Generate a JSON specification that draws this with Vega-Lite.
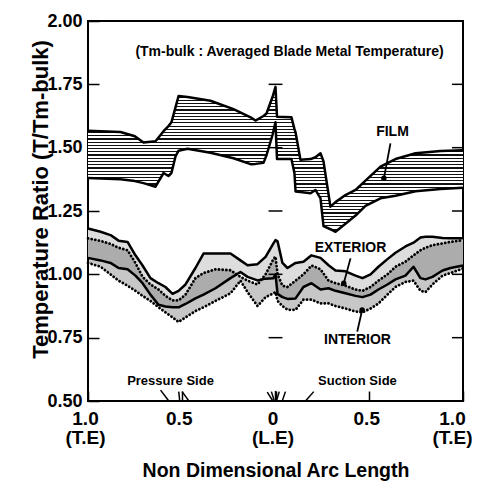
{
 "$schema": "https://vega.github.io/schema/vega-lite/v6.json",
 "width": 375, "height": 380,
 "autosize": "none",
 "padding": {"left": 88, "top": 21, "right": 18, "bottom": 80},
 "background": "white",
 "config": {"view": {"stroke": "#000", "strokeWidth": 2}, "font": "Liberation Sans"},
 "datasets": {
  "film": [
   {"x":-1.0,"u":1.567,"l":1.38},{"x":-0.827,"u":1.562,"l":1.375},{"x":-0.75,"u":1.545,"l":1.368},{"x":-0.704,"u":1.52,"l":1.36},
   {"x":-0.64,"u":1.525,"l":1.346},{"x":-0.597,"u":1.565,"l":1.4},{"x":-0.571,"u":1.585,"l":1.388},{"x":-0.555,"u":1.6,"l":1.4},
   {"x":-0.533,"u":1.66,"l":1.466},{"x":-0.517,"u":1.704,"l":1.488},{"x":-0.469,"u":1.7,"l":1.496},{"x":-0.347,"u":1.685,"l":1.48},
   {"x":-0.224,"u":1.652,"l":1.458},{"x":-0.133,"u":1.62,"l":1.435},{"x":-0.107,"u":1.607,"l":1.436},{"x":-0.064,"u":1.625,"l":1.44},
   {"x":-0.048,"u":1.635,"l":1.47},{"x":-0.016,"u":1.7,"l":1.55},{"x":0.0,"u":1.74,"l":1.6},{"x":0.008,"u":1.622,"l":1.455},
   {"x":0.085,"u":1.62,"l":1.455},{"x":0.101,"u":1.573,"l":1.4},{"x":0.107,"u":1.56,"l":1.327},{"x":0.133,"u":1.452,"l":1.325},
   {"x":0.187,"u":1.455,"l":1.32},{"x":0.213,"u":1.462,"l":1.333},{"x":0.24,"u":1.478,"l":1.3},{"x":0.256,"u":1.446,"l":1.19},
   {"x":0.293,"u":1.267,"l":1.178},{"x":0.32,"u":1.285,"l":1.168},{"x":0.373,"u":1.313,"l":1.2},{"x":0.427,"u":1.333,"l":1.232},
   {"x":0.48,"u":1.37,"l":1.27},{"x":0.56,"u":1.425,"l":1.3},{"x":0.64,"u":1.455,"l":1.31},{"x":0.747,"u":1.478,"l":1.328},
   {"x":0.88,"u":1.487,"l":1.337},{"x":1.0,"u":1.49,"l":1.342}
  ],
  "band": [
   {"x":-1.0,"t":1.181,"d":1.142,"m":1.065,"b":1.045},
   {"x":-0.933,"t":1.168,"d":1.132,"m":1.055,"b":1.03},
   {"x":-0.88,"t":1.155,"d":1.12,"m":1.045,"b":1.0},
   {"x":-0.837,"t":1.133,"d":1.105,"m":1.025,"b":0.975},
   {"x":-0.789,"t":1.128,"d":1.095,"m":1.02,"b":0.955},
   {"x":-0.747,"t":1.075,"d":1.045,"m":0.995,"b":0.935},
   {"x":-0.709,"t":1.035,"d":0.99,"m":0.965,"b":0.915},
   {"x":-0.667,"t":0.985,"d":0.96,"m":0.92,"b":0.895},
   {"x":-0.624,"t":0.965,"d":0.94,"m":0.88,"b":0.87},
   {"x":-0.587,"t":0.95,"d":0.915,"m":0.873,"b":0.85},
   {"x":-0.549,"t":0.923,"d":0.897,"m":0.87,"b":0.83},
   {"x":-0.517,"t":0.935,"d":0.897,"m":0.87,"b":0.812},
   {"x":-0.48,"t":0.96,"d":0.92,"m":0.883,"b":0.83},
   {"x":-0.427,"t":1.025,"d":0.985,"m":0.905,"b":0.855},
   {"x":-0.384,"t":1.082,"d":1.005,"m":0.92,"b":0.87},
   {"x":-0.32,"t":1.082,"d":1.02,"m":0.945,"b":0.895},
   {"x":-0.24,"t":1.082,"d":1.016,"m":0.985,"b":0.925},
   {"x":-0.187,"t":1.055,"d":0.99,"m":1.009,"b":0.975},
   {"x":-0.149,"t":1.036,"d":0.975,"m":0.99,"b":0.93},
   {"x":-0.096,"t":1.04,"d":0.96,"m":0.976,"b":0.875},
   {"x":-0.053,"t":1.069,"d":1.0,"m":0.983,"b":0.91},
   {"x":-0.011,"t":1.122,"d":1.06,"m":0.985,"b":0.925},
   {"x":0.0,"t":1.135,"d":1.07,"m":1.0,"b":0.93},
   {"x":0.011,"t":1.13,"d":1.0,"m":0.923,"b":0.895},
   {"x":0.037,"t":1.045,"d":0.955,"m":0.91,"b":0.875},
   {"x":0.064,"t":1.025,"d":0.95,"m":0.903,"b":0.86},
   {"x":0.107,"t":1.045,"d":0.975,"m":0.905,"b":0.86},
   {"x":0.149,"t":1.05,"d":1.0,"m":0.95,"b":0.9},
   {"x":0.192,"t":1.075,"d":1.035,"m":0.965,"b":0.9},
   {"x":0.24,"t":1.065,"d":1.02,"m":0.94,"b":0.885},
   {"x":0.283,"t":1.036,"d":0.975,"m":0.945,"b":0.885},
   {"x":0.32,"t":1.015,"d":0.965,"m":0.935,"b":0.875},
   {"x":0.373,"t":1.012,"d":0.955,"m":0.925,"b":0.865},
   {"x":0.427,"t":0.995,"d":0.94,"m":0.915,"b":0.853},
   {"x":0.464,"t":0.985,"d":0.935,"m":0.91,"b":0.85},
   {"x":0.507,"t":1.0,"d":0.95,"m":0.92,"b":0.865},
   {"x":0.549,"t":1.03,"d":0.975,"m":0.94,"b":0.885},
   {"x":0.597,"t":1.06,"d":1.0,"m":0.96,"b":0.92},
   {"x":0.64,"t":1.085,"d":1.03,"m":0.98,"b":0.95},
   {"x":0.693,"t":1.11,"d":1.05,"m":0.995,"b":0.97},
   {"x":0.736,"t":1.125,"d":1.075,"m":1.03,"b":0.975},
   {"x":0.773,"t":1.145,"d":1.095,"m":0.985,"b":0.935},
   {"x":0.8,"t":1.148,"d":1.105,"m":0.98,"b":0.93},
   {"x":0.837,"t":1.148,"d":1.115,"m":0.99,"b":0.96},
   {"x":0.891,"t":1.143,"d":1.122,"m":1.015,"b":0.995},
   {"x":0.933,"t":1.142,"d":1.128,"m":1.025,"b":1.005},
   {"x":1.0,"t":1.142,"d":1.135,"m":1.035,"b":1.023}
  ],
  "yticks": [{"y":0.5},{"y":0.75},{"y":1.0},{"y":1.25},{"y":1.5},{"y":1.75},{"y":2.0}],
  "cticks": [{"y":0.75},{"y":1.0},{"y":1.25},{"y":1.5},{"y":1.75}],
  "pointers": [
   {"x":0.613,"y":1.517,"x2":0.578,"y2":1.379},
   {"x":0.4,"y":1.063,"x2":0.364,"y2":0.965},
   {"x":0.436,"y":0.774,"x2":0.462,"y2":0.859}
  ],
  "holes": [
   {"x":-0.613,"y":0.543,"x2":-0.569,"y2":0.5},
   {"x":-0.516,"y":0.537,"x2":-0.511,"y2":0.5},
   {"x":-0.498,"y":0.537,"x2":-0.462,"y2":0.5},
   {"x":-0.044,"y":0.535,"x2":-0.014,"y2":0.5},
   {"x":-0.022,"y":0.537,"x2":-0.006,"y2":0.5},
   {"x":0.0,"y":0.54,"x2":0.0,"y2":0.5},
   {"x":0.02,"y":0.537,"x2":0.005,"y2":0.5},
   {"x":0.053,"y":0.537,"x2":0.036,"y2":0.5},
   {"x":0.204,"y":0.537,"x2":0.16,"y2":0.5}
  ],
  "big": [
   {"x":0.075,"y":1.878,"text":"(Tm-bulk : Averaged Blade Metal Temperature)"},
   {"x":0.624,"y":1.562,"text":"FILM"},
   {"x":0.4,"y":1.104,"text":"EXTERIOR"},
   {"x":0.437,"y":0.741,"text":"INTERIOR"}
  ],
  "sides": [
   {"x":-0.56,"y":0.579,"text":"Pressure Side"},
   {"x":0.437,"y":0.579,"text":"Suction Side"}
  ]
 },
 "layer": [
  {
   "data": {"name": "band"},
   "mark": {"type": "area", "fill": "#dddddd", "stroke": null},
   "encoding": {
    "x": {"field": "x", "type": "quantitative", "scale": {"domain": [-1, 1], "nice": false, "zero": false},
     "axis": {"values": [-1, -0.5, 0, 0.5, 1],
      "labelExpr": "datum.value == 0 ? ['0','(L.E)'] : (abs(datum.value) == 1 ? ['1.0','(T.E)'] : '0.5')",
      "domain": false, "grid": false, "tickSize": -10, "tickColor": "#000", "tickWidth": 1.5,
      "labelPadding": 18, "labelFontSize": 19, "labelFontWeight": "bold", "labelColor": "#000", "labelFont": "Liberation Sans",
      "labelLineHeight": 19, "labelFlush": false, "labelOverlap": false, "labelBound": false,
      "labelOffset": {"condition": {"test": "datum.value == 1", "value": -11}, "value": -3},
      "title": "Non Dimensional Arc Length", "titleFontSize": 19.5, "titleFontWeight": "bold", "titleColor": "#000",
      "titleFont": "Liberation Sans", "titleY": 75, "titleBaseline": "alphabetic"}},
    "y": {"field": "t", "type": "quantitative", "scale": {"domain": [0.5, 2], "nice": false, "zero": false},
     "axis": {"values": [0.5, 0.75, 1, 1.25, 1.5, 1.75, 2], "format": ".2f", "domain": false, "grid": false,
      "tickSize": -11, "tickWidth": 1.5, "tickColor": "#000", "labelPadding": 17, "labelFontSize": 18,
      "labelFontWeight": "bold", "labelColor": "#000", "labelFont": "Liberation Sans", "labelFlush": false, "labelOverlap": false, "labelBound": false,
      "title": "Temperature Ratio  (T/Tm-bulk)", "titleFontSize": 22, "titleFontWeight": "bold", "titleColor": "#000",
      "titleFont": "Liberation Sans", "titleX": -41, "titleY": 178, "titleAngle": 270, "titleAlign": "center", "titleBaseline": "alphabetic"}},
    "y2": {"field": "m"}
   }
  },
  {
   "data": {"name": "band"},
   "mark": {"type": "area", "fill": "#000", "fillOpacity": 0.22, "stroke": null},
   "encoding": {
    "x": {"field": "x", "type": "quantitative", "scale": {"domain": [-1, 1], "nice": false, "zero": false}},
    "y": {"field": "d", "type": "quantitative", "scale": {"domain": [0.5, 2], "nice": false, "zero": false}},
    "y2": {"field": "b"}
   }
  },
  {
   "data": {"name": "film"},
   "mark": {"type": "area", "stroke": null, "fill": {"gradient": "linear", "x1": 0, "y1": 0, "x2": 0, "y2": 1, "stops": [
    {"offset":0,"color":"#111"},{"offset":0.0078,"color":"#111"},{"offset":0.0078,"color":"#fff"},{"offset":0.0222,"color":"#fff"},
    {"offset":0.0222,"color":"#111"},{"offset":0.03,"color":"#111"},{"offset":0.03,"color":"#fff"},{"offset":0.0444,"color":"#fff"},
    {"offset":0.0444,"color":"#111"},{"offset":0.0522,"color":"#111"},{"offset":0.0522,"color":"#fff"},{"offset":0.0667,"color":"#fff"},
    {"offset":0.0667,"color":"#111"},{"offset":0.0745,"color":"#111"},{"offset":0.0745,"color":"#fff"},{"offset":0.0889,"color":"#fff"},
    {"offset":0.0889,"color":"#111"},{"offset":0.0967,"color":"#111"},{"offset":0.0967,"color":"#fff"},{"offset":0.1111,"color":"#fff"},
    {"offset":0.1111,"color":"#111"},{"offset":0.1189,"color":"#111"},{"offset":0.1189,"color":"#fff"},{"offset":0.1333,"color":"#fff"},
    {"offset":0.1333,"color":"#111"},{"offset":0.1411,"color":"#111"},{"offset":0.1411,"color":"#fff"},{"offset":0.1556,"color":"#fff"},
    {"offset":0.1556,"color":"#111"},{"offset":0.1634,"color":"#111"},{"offset":0.1634,"color":"#fff"},{"offset":0.1778,"color":"#fff"},
    {"offset":0.1778,"color":"#111"},{"offset":0.1856,"color":"#111"},{"offset":0.1856,"color":"#fff"},{"offset":0.2,"color":"#fff"},
    {"offset":0.2,"color":"#111"},{"offset":0.2078,"color":"#111"},{"offset":0.2078,"color":"#fff"},{"offset":0.2222,"color":"#fff"},
    {"offset":0.2222,"color":"#111"},{"offset":0.23,"color":"#111"},{"offset":0.23,"color":"#fff"},{"offset":0.2444,"color":"#fff"},
    {"offset":0.2444,"color":"#111"},{"offset":0.2522,"color":"#111"},{"offset":0.2522,"color":"#fff"},{"offset":0.2667,"color":"#fff"},
    {"offset":0.2667,"color":"#111"},{"offset":0.2745,"color":"#111"},{"offset":0.2745,"color":"#fff"},{"offset":0.2889,"color":"#fff"},
    {"offset":0.2889,"color":"#111"},{"offset":0.2967,"color":"#111"},{"offset":0.2967,"color":"#fff"},{"offset":0.3111,"color":"#fff"},
    {"offset":0.3111,"color":"#111"},{"offset":0.3189,"color":"#111"},{"offset":0.3189,"color":"#fff"},{"offset":0.3333,"color":"#fff"},
    {"offset":0.3333,"color":"#111"},{"offset":0.3411,"color":"#111"},{"offset":0.3411,"color":"#fff"},{"offset":0.3556,"color":"#fff"},
    {"offset":0.3556,"color":"#111"},{"offset":0.3634,"color":"#111"},{"offset":0.3634,"color":"#fff"},{"offset":0.3778,"color":"#fff"},
    {"offset":0.3778,"color":"#111"},{"offset":0.3856,"color":"#111"},{"offset":0.3856,"color":"#fff"},{"offset":0.4,"color":"#fff"},
    {"offset":0.4,"color":"#111"},{"offset":0.4078,"color":"#111"},{"offset":0.4078,"color":"#fff"},{"offset":0.4222,"color":"#fff"},
    {"offset":0.4222,"color":"#111"},{"offset":0.43,"color":"#111"},{"offset":0.43,"color":"#fff"},{"offset":0.4444,"color":"#fff"},
    {"offset":0.4444,"color":"#111"},{"offset":0.4522,"color":"#111"},{"offset":0.4522,"color":"#fff"},{"offset":0.4667,"color":"#fff"},
    {"offset":0.4667,"color":"#111"},{"offset":0.4745,"color":"#111"},{"offset":0.4745,"color":"#fff"},{"offset":0.4889,"color":"#fff"},
    {"offset":0.4889,"color":"#111"},{"offset":0.4967,"color":"#111"},{"offset":0.4967,"color":"#fff"},{"offset":0.5111,"color":"#fff"},
    {"offset":0.5111,"color":"#111"},{"offset":0.5189,"color":"#111"},{"offset":0.5189,"color":"#fff"},{"offset":0.5333,"color":"#fff"},
    {"offset":0.5333,"color":"#111"},{"offset":0.5411,"color":"#111"},{"offset":0.5411,"color":"#fff"},{"offset":0.5556,"color":"#fff"},
    {"offset":0.5556,"color":"#111"},{"offset":0.5634,"color":"#111"},{"offset":0.5634,"color":"#fff"},{"offset":0.5778,"color":"#fff"},
    {"offset":0.5778,"color":"#111"},{"offset":0.5856,"color":"#111"},{"offset":0.5856,"color":"#fff"},{"offset":0.6,"color":"#fff"},
    {"offset":0.6,"color":"#111"},{"offset":0.6078,"color":"#111"},{"offset":0.6078,"color":"#fff"},{"offset":0.6222,"color":"#fff"},
    {"offset":0.6222,"color":"#111"},{"offset":0.63,"color":"#111"},{"offset":0.63,"color":"#fff"},{"offset":0.6444,"color":"#fff"},
    {"offset":0.6444,"color":"#111"},{"offset":0.6522,"color":"#111"},{"offset":0.6522,"color":"#fff"},{"offset":0.6667,"color":"#fff"},
    {"offset":0.6667,"color":"#111"},{"offset":0.6745,"color":"#111"},{"offset":0.6745,"color":"#fff"},{"offset":0.6889,"color":"#fff"},
    {"offset":0.6889,"color":"#111"},{"offset":0.6967,"color":"#111"},{"offset":0.6967,"color":"#fff"},{"offset":0.7111,"color":"#fff"},
    {"offset":0.7111,"color":"#111"},{"offset":0.7189,"color":"#111"},{"offset":0.7189,"color":"#fff"},{"offset":0.7333,"color":"#fff"},
    {"offset":0.7333,"color":"#111"},{"offset":0.7411,"color":"#111"},{"offset":0.7411,"color":"#fff"},{"offset":0.7556,"color":"#fff"},
    {"offset":0.7556,"color":"#111"},{"offset":0.7634,"color":"#111"},{"offset":0.7634,"color":"#fff"},{"offset":0.7778,"color":"#fff"},
    {"offset":0.7778,"color":"#111"},{"offset":0.7856,"color":"#111"},{"offset":0.7856,"color":"#fff"},{"offset":0.8,"color":"#fff"},
    {"offset":0.8,"color":"#111"},{"offset":0.8078,"color":"#111"},{"offset":0.8078,"color":"#fff"},{"offset":0.8222,"color":"#fff"},
    {"offset":0.8222,"color":"#111"},{"offset":0.83,"color":"#111"},{"offset":0.83,"color":"#fff"},{"offset":0.8444,"color":"#fff"},
    {"offset":0.8444,"color":"#111"},{"offset":0.8522,"color":"#111"},{"offset":0.8522,"color":"#fff"},{"offset":0.8667,"color":"#fff"},
    {"offset":0.8667,"color":"#111"},{"offset":0.8745,"color":"#111"},{"offset":0.8745,"color":"#fff"},{"offset":0.8889,"color":"#fff"},
    {"offset":0.8889,"color":"#111"},{"offset":0.8967,"color":"#111"},{"offset":0.8967,"color":"#fff"},{"offset":0.9111,"color":"#fff"},
    {"offset":0.9111,"color":"#111"},{"offset":0.9189,"color":"#111"},{"offset":0.9189,"color":"#fff"},{"offset":0.9333,"color":"#fff"},
    {"offset":0.9333,"color":"#111"},{"offset":0.9411,"color":"#111"},{"offset":0.9411,"color":"#fff"},{"offset":0.9556,"color":"#fff"},
    {"offset":0.9556,"color":"#111"},{"offset":0.9634,"color":"#111"},{"offset":0.9634,"color":"#fff"},{"offset":0.9778,"color":"#fff"},
    {"offset":0.9778,"color":"#111"},{"offset":0.9856,"color":"#111"},{"offset":0.9856,"color":"#fff"},{"offset":1,"color":"#fff"}
   ]}},
   "encoding": {
    "x": {"field": "x", "type": "quantitative", "scale": {"domain": [-1, 1], "nice": false, "zero": false}},
    "y": {"field": "u", "type": "quantitative", "scale": {"domain": [0.5, 2], "nice": false, "zero": false}},
    "y2": {"field": "l"}
   }
  },
  {
   "data": {"name": "film"},
   "mark": {"type": "line", "color": "#000", "strokeWidth": 2.5, "strokeJoin": "round"},
   "encoding": {
    "x": {"field": "x", "type": "quantitative", "scale": {"domain": [-1, 1], "nice": false, "zero": false}},
    "y": {"field": "u", "type": "quantitative", "scale": {"domain": [0.5, 2], "nice": false, "zero": false}}
   }
  },
  {
   "data": {"name": "film"},
   "mark": {"type": "line", "color": "#000", "strokeWidth": 2.5, "strokeJoin": "round"},
   "encoding": {
    "x": {"field": "x", "type": "quantitative", "scale": {"domain": [-1, 1], "nice": false, "zero": false}},
    "y": {"field": "l", "type": "quantitative", "scale": {"domain": [0.5, 2], "nice": false, "zero": false}}
   }
  },
  {
   "data": {"name": "band"},
   "mark": {"type": "line", "color": "#000", "strokeWidth": 2.5, "strokeJoin": "round"},
   "encoding": {
    "x": {"field": "x", "type": "quantitative", "scale": {"domain": [-1, 1], "nice": false, "zero": false}},
    "y": {"field": "t", "type": "quantitative", "scale": {"domain": [0.5, 2], "nice": false, "zero": false}}
   }
  },
  {
   "data": {"name": "band"},
   "mark": {"type": "line", "color": "#000", "strokeWidth": 2.5, "strokeJoin": "round"},
   "encoding": {
    "x": {"field": "x", "type": "quantitative", "scale": {"domain": [-1, 1], "nice": false, "zero": false}},
    "y": {"field": "m", "type": "quantitative", "scale": {"domain": [0.5, 2], "nice": false, "zero": false}}
   }
  },
  {
   "data": {"name": "band"},
   "mark": {"type": "line", "color": "#000", "strokeWidth": 2.8, "strokeDash": [0.1, 3.6], "strokeCap": "round"},
   "encoding": {
    "x": {"field": "x", "type": "quantitative", "scale": {"domain": [-1, 1], "nice": false, "zero": false}},
    "y": {"field": "d", "type": "quantitative", "scale": {"domain": [0.5, 2], "nice": false, "zero": false}}
   }
  },
  {
   "data": {"name": "band"},
   "mark": {"type": "line", "color": "#000", "strokeWidth": 2.8, "strokeDash": [0.1, 3.6], "strokeCap": "round"},
   "encoding": {
    "x": {"field": "x", "type": "quantitative", "scale": {"domain": [-1, 1], "nice": false, "zero": false}},
    "y": {"field": "b", "type": "quantitative", "scale": {"domain": [0.5, 2], "nice": false, "zero": false}}
   }
  },
  {
   "mark": {"type": "rule", "color": "#000", "strokeWidth": 2},
   "encoding": {"x": {"datum": 0, "type": "quantitative"}}
  },
  {
   "data": {"name": "yticks"},
   "mark": {"type": "rule", "color": "#000", "strokeWidth": 1.5},
   "encoding": {
    "x": {"datum": 0.941, "type": "quantitative"},
    "x2": {"datum": 1},
    "y": {"field": "y", "type": "quantitative", "scale": {"domain": [0.5, 2], "nice": false, "zero": false}}
   }
  },
  {
   "data": {"name": "cticks"},
   "mark": {"type": "rule", "color": "#000", "strokeWidth": 1.5},
   "encoding": {
    "x": {"datum": -0.037, "type": "quantitative"},
    "x2": {"datum": 0.037},
    "y": {"field": "y", "type": "quantitative", "scale": {"domain": [0.5, 2], "nice": false, "zero": false}}
   }
  },
  {
   "data": {"name": "pointers"},
   "mark": {"type": "rule", "color": "#000", "strokeWidth": 1.8},
   "encoding": {
    "x": {"field": "x", "type": "quantitative", "scale": {"domain": [-1, 1], "nice": false, "zero": false}},
    "x2": {"field": "x2"},
    "y": {"field": "y", "type": "quantitative", "scale": {"domain": [0.5, 2], "nice": false, "zero": false}},
    "y2": {"field": "y2"}
   }
  },
  {
   "data": {"name": "pointers"},
   "mark": {"type": "point", "filled": true, "color": "#000", "size": 30, "opacity": 1},
   "encoding": {
    "x": {"field": "x2", "type": "quantitative", "scale": {"domain": [-1, 1], "nice": false, "zero": false}},
    "y": {"field": "y2", "type": "quantitative", "scale": {"domain": [0.5, 2], "nice": false, "zero": false}}
   }
  },
  {
   "data": {"name": "holes"},
   "mark": {"type": "rule", "color": "#000", "strokeWidth": 1.5},
   "encoding": {
    "x": {"field": "x", "type": "quantitative", "scale": {"domain": [-1, 1], "nice": false, "zero": false}},
    "x2": {"field": "x2"},
    "y": {"field": "y", "type": "quantitative", "scale": {"domain": [0.5, 2], "nice": false, "zero": false}},
    "y2": {"field": "y2"}
   }
  },
  {
   "data": {"name": "big"},
   "mark": {"type": "text", "font": "Liberation Sans", "fontWeight": "bold", "fontSize": 14, "color": "#000", "align": "center", "baseline": "middle"},
   "encoding": {
    "x": {"field": "x", "type": "quantitative", "scale": {"domain": [-1, 1], "nice": false, "zero": false}},
    "y": {"field": "y", "type": "quantitative", "scale": {"domain": [0.5, 2], "nice": false, "zero": false}},
    "text": {"field": "text"}
   }
  },
  {
   "data": {"name": "sides"},
   "mark": {"type": "text", "font": "Liberation Sans", "fontWeight": "bold", "fontSize": 13, "color": "#000", "align": "center", "baseline": "middle"},
   "encoding": {
    "x": {"field": "x", "type": "quantitative", "scale": {"domain": [-1, 1], "nice": false, "zero": false}},
    "y": {"field": "y", "type": "quantitative", "scale": {"domain": [0.5, 2], "nice": false, "zero": false}},
    "text": {"field": "text"}
   }
  }
 ]
}
